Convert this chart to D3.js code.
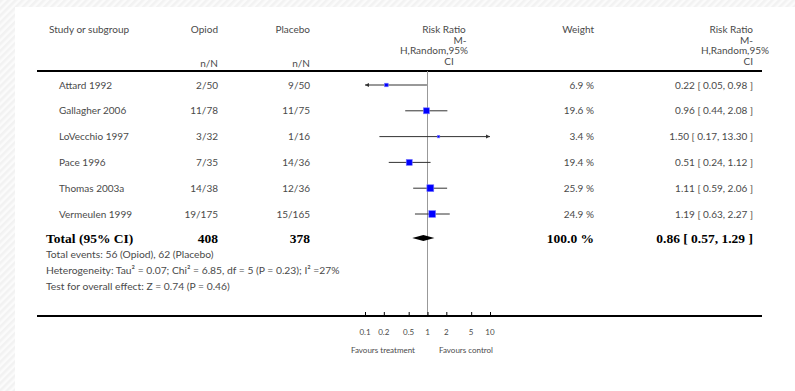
<!DOCTYPE html>
<html>
<head>
<meta charset="utf-8">
<script src="https://cdn.jsdelivr.net/npm/d3@7"></script>
<style>
  body { margin: 0; background: #fff; }
  text { font-family: Lato, "Open Sans", sans-serif; fill: #4a4a4a; }
  text.bold { font-family: "Liberation Serif", "DejaVu Serif", serif; font-weight: bold; fill: #000; font-size: 13.5px; }
</style>
</head>
<body>
<svg id="canvas" width="795" height="391"></svg>
<script>
let studies = ["Attard 1992", "Gallagher 2006", "LoVecchio 1997", "Pace 1996", "Thomas 2003a", "Vermeulen 1999"]
let opioid = ["2/50", "11/78", "3/32", "7/35", "14/38", "19/175"]
let placebo = ["9/50", "11/75", "1/16", "14/36", "12/36", "15/165"]
let weights = [6.9, 19.6, 3.4, 19.4, 25.9, 24.9]
let rr = [0.22, 0.96, 1.50, 0.51, 1.11, 1.19]
let lower = [0.05, 0.44, 0.17, 0.24, 0.59, 0.63]
let upper = [0.98, 2.08, 13.30, 1.12, 2.06, 2.27]

let total = {rr: 0.86, lower: 0.57, upper: 1.29, opioid: "408", placebo: "378", weight: "100.0 %"}
let notes = ["Total events: 56 (Opiod), 62 (Placebo)",
             "Heterogeneity: Tau² = 0.07; Chi² = 6.85, df = 5 (P = 0.23); I² =27%",
             "Test for overall effect: Z = 0.74 (P = 0.46)"]
let ticks = [0.1, 0.2, 0.5, 1, 2, 5, 10]

let canvas = d3.select("#canvas")

// hatched background + white panel
let defs = canvas.append("defs")
let pat = defs.append("pattern").attr("id", "hatch").attr("width", 5).attr("height", 5)
    .attr("patternUnits", "userSpaceOnUse").attr("patternTransform", "rotate(45)")
pat.append("rect").attr("width", 5).attr("height", 5).attr("fill", "#fbfbfb")
pat.append("rect").attr("width", 2.5).attr("height", 5).attr("fill", "#f2f2f2")
canvas.append("rect").attr("width", 795).attr("height", 391).attr("fill", "url(#hatch)")
canvas.append("rect").attr("x", 15).attr("y", 7).attr("width", 780).attr("height", 384).attr("fill", "#fff")

let x = d3.scaleLog().domain([0.1, 10]).range([365, 490])
let y = d3.scalePoint().domain(studies).range([85, 214])
let size = d3.scaleSqrt().domain([0, 25.9]).range([0, 6.9])
let yTotal = 238
let fmt = d3.format(".2f")

// header
let hdr = canvas.append("g").style("font-size", "10px")
hdr.append("text").attr("x", 49).attr("y", 33).text("Study or subgroup")
hdr.append("text").attr("x", 218).attr("y", 33).attr("text-anchor", "end").text("Opiod")
hdr.append("text").attr("x", 310).attr("y", 33).attr("text-anchor", "end").text("Placebo")
hdr.append("text").attr("x", 218).attr("y", 67).attr("text-anchor", "end").text("n/N")
hdr.append("text").attr("x", 310).attr("y", 67).attr("text-anchor", "end").text("n/N")
hdr.append("text").attr("x", 594).attr("y", 33).attr("text-anchor", "end").text("Weight")
let rrHead = ["Risk Ratio", "M-", "H,Random,95%", "CI"]
hdr.selectAll(".h1").data(rrHead).enter().append("text")
    .attr("x", (d, i) => [444, 460, 434, 449][i]).attr("y", (d, i) => 33 + i * 10.5)
    .attr("text-anchor", "middle").text(d => d)
hdr.selectAll(".h2").data(rrHead).enter().append("text")
    .attr("x", (d, i) => i == 2 ? 769 : 753).attr("y", (d, i) => 33 + i * 10.5)
    .attr("text-anchor", "end").text(d => d)

// lines
canvas.append("line").attr("x1", 37).attr("x2", 762).attr("y1", 71).attr("y2", 71)
    .attr("stroke", "#000").attr("stroke-width", 2)
canvas.append("line").attr("x1", x(1)).attr("x2", x(1)).attr("y1", 71).attr("y2", 316)
    .attr("stroke", "#999").attr("stroke-width", 1)
canvas.append("line").attr("x1", 37).attr("x2", 762).attr("y1", 316).attr("y2", 316)
    .attr("stroke", "#000").attr("stroke-width", 2)

// study rows
let rows = canvas.append("g").style("font-size", "10px")
studies.forEach((s, i) => {
    let yy = y(s)
    let g = rows.append("g").attr("transform", "translate(0," + yy + ")")
    g.append("text").attr("x", 59).attr("dy", "0.35em").text(s)
    g.append("text").attr("x", 218).attr("dy", "0.35em").attr("text-anchor", "end").text(opioid[i])
    g.append("text").attr("x", 310).attr("dy", "0.35em").attr("text-anchor", "end").text(placebo[i])
    g.append("text").attr("x", 594).attr("dy", "0.35em").attr("text-anchor", "end").text(weights[i] + " %")
    g.append("text").attr("x", 753).attr("dy", "0.35em").attr("text-anchor", "end")
        .text(fmt(rr[i]) + " [ " + fmt(lower[i]) + ", " + fmt(upper[i]) + " ]")

    let lo = Math.max(lower[i], 0.1), hi = Math.min(upper[i], 10)
    g.append("line").attr("x1", x(lo)).attr("x2", x(hi)).attr("stroke", "#333").attr("stroke-width", 1)
    if (lower[i] < 0.1) {
        g.append("path").attr("d", `M${x(0.1)},0 l4,-2 v4 z`).attr("fill", "#333")
    }
    if (upper[i] > 10) {
        g.append("path").attr("d", `M${x(10)},0 l-4,-2 v4 z`).attr("fill", "#333")
    }
    let sz = size(weights[i])
    g.append("rect").attr("x", x(rr[i]) - sz / 2).attr("y", -sz / 2)
        .attr("width", sz).attr("height", sz)
        .attr("fill", "#0000ff").attr("stroke", "#7777ff").attr("stroke-width", 0.6)
})

// total row
let tot = canvas.append("g").attr("transform", "translate(0," + yTotal + ")")
tot.append("text").attr("class", "bold").attr("x", 46).attr("dy", "0.35em").text("Total (95% CI)")
tot.append("text").attr("class", "bold").attr("x", 218).attr("dy", "0.35em").attr("text-anchor", "end").text(total.opioid)
tot.append("text").attr("class", "bold").attr("x", 310).attr("dy", "0.35em").attr("text-anchor", "end").text(total.placebo)
tot.append("text").attr("class", "bold").attr("x", 594).attr("dy", "0.35em").attr("text-anchor", "end").text(total.weight)
tot.append("text").attr("class", "bold").attr("x", 753).attr("dy", "0.35em").attr("text-anchor", "end")
    .text(fmt(total.rr) + " [ " + fmt(total.lower) + ", " + fmt(total.upper) + " ]")
tot.append("path")
    .attr("d", `M${x(total.lower)},0 L${x(total.rr)},-3 L${x(total.upper)},0 L${x(total.rr)},3 Z`)
    .attr("fill", "#000")

// notes
canvas.append("g").style("font-size", "10.3px").selectAll("text").data(notes).enter().append("text")
    .attr("x", 46).attr("y", (d, i) => 254 + i * 16).attr("dy", "0.35em").text(d => d)

// axis
let axis = d3.axisTop(x).tickValues(ticks).tickSize(4).tickFormat(d => d)
let ax = canvas.append("g").attr("transform", "translate(0,316)").call(axis)
ax.select(".domain").remove()
ax.selectAll(".tick text").remove()
ax.selectAll(".tick line").attr("stroke", "#000")
canvas.append("g").style("font-size", "8px").selectAll("text").data(ticks).enter().append("text")
    .attr("x", d => x(d)).attr("y", 335).attr("text-anchor", "middle").text(d => d)
canvas.append("text").attr("x", 383).attr("y", 353).attr("text-anchor", "middle")
    .style("font-size", "8px").text("Favours treatment")
canvas.append("text").attr("x", 466).attr("y", 353).attr("text-anchor", "middle")
    .style("font-size", "8px").text("Favours control")
</script>
</body>
</html>
